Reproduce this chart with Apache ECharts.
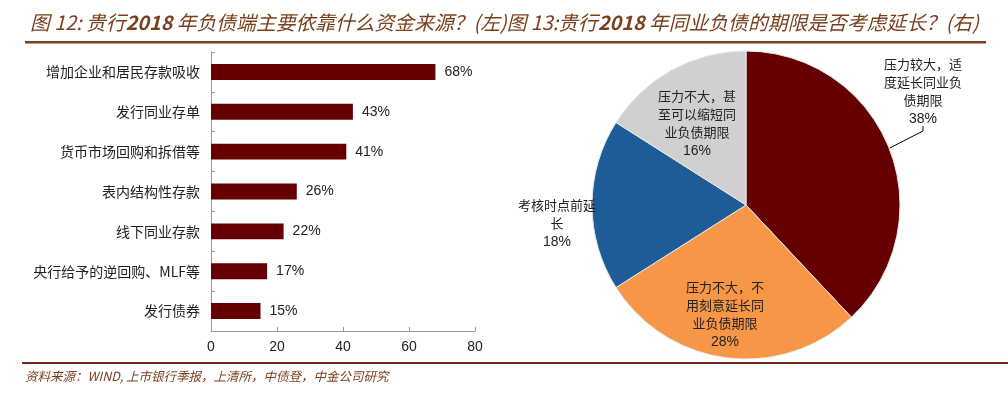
<!DOCTYPE html>
<html><head><meta charset="utf-8">
<script src="https://cdn.jsdelivr.net/npm/echarts@6/dist/echarts.min.js"></script>
<style>html,body{margin:0;padding:0;background:#fff;}#c{width:1008px;height:396px;}</style>
</head><body><div id="c"></div>
<script>
const barCategories = ['增加企业和居民存款吸收','发行同业存单','货币市场回购和拆借等','表内结构性存款','线下同业存款','央行给予的逆回购、MLF等','发行债券'];
const barValues = [68, 43, 41, 26, 22, 17, 15];
const xTicks = [0, 20, 40, 60, 80];
const pieNames = ['压力较大，适\n度延长同业负\n债期限', '压力不大，不\n用刻意延长同\n业负债期限', '考核时点前延\n长', '压力不大，甚\n至可以缩短同\n业负债期限'];
const pieValues = [38, 28, 18, 16];
const pieColors = ['#660000', '#F79646', '#1D5C97', '#D0D0D0'];
const titleText = '图 12: 贵行2018 年负债端主要依靠什么资金来源？(左)图 13:贵行2018 年同业负债的期限是否考虑延长？(右)';
const sourceText = '资料来源：WIND, 上市银行季报，上清所，中债登，中金公司研究';

const CJK = "'Noto Sans CJK SC', sans-serif";
const NUM = "'Liberation Sans', Arial, sans-serif";
const brown = '#7A3F1D';

// label centre positions for pie labels (px)
const pieLabelPos = [[923, 92], [725, 315], [557, 224], [697, 124]];

const titleRich = titleText.split('2018').map(s => '{a|' + s + '}').join('{b|2018}');

const chart = echarts.init(document.getElementById('c'), null, {renderer: 'canvas'});
chart.setOption({
  animation: false,
  backgroundColor: '#fff',
  grid: {left: 211, right: 533, top: 52, bottom: 65, containLabel: false},
  xAxis: {
    type: 'value', min: xTicks[0], max: xTicks[xTicks.length - 1], interval: 20,
    axisLine: {show: true, lineStyle: {color: '#999', width: 1}},
    axisTick: {show: true, inside: true, length: 4, lineStyle: {color: '#999'}},
    splitLine: {show: false},
    axisLabel: {color: '#222', fontSize: 14, fontFamily: NUM, margin: 9}
  },
  yAxis: {
    type: 'category', data: barCategories, inverse: true,
    axisLine: {show: true, lineStyle: {color: '#999', width: 1}},
    axisTick: {show: true, inside: true, length: 4, lineStyle: {color: '#999'}},
    axisLabel: {color: '#222', fontSize: 14, fontFamily: CJK, margin: 11}
  },
  series: [{
    type: 'bar', data: barValues, barCategoryGap: '60%',
    itemStyle: {color: '#660000'},
    label: {show: true, position: 'right', distance: 9, formatter: '{c}%', color: '#222', fontSize: 14, fontFamily: NUM}
  }, {
    type: 'pie', center: [746, 205], radius: 154, startAngle: 90, clockwise: true,
    data: pieValues.map((v, i) => ({value: v, name: pieNames[i], itemStyle: {color: pieColors[i]}})),
    itemStyle: {borderColor: '#e8e8e8', borderWidth: 1},
    label: {
      show: true, position: 'outside',
      formatter: p => '{t|' + p.name + '}\n{p|' + p.value + '%}',
      rich: {
        t: {fontFamily: CJK, fontSize: 13, color: '#222', lineHeight: 18, align: 'center'},
        p: {fontFamily: NUM, fontSize: 14, color: '#222', lineHeight: 19, align: 'center'}
      },
      align: 'center'
    },
    labelLine: {show: true, length: 10, length2: 5, lineStyle: {color: '#000', width: 1}},
    labelLayout: function (params) {
      const pos = pieLabelPos[params.dataIndex];
      return {x: pos[0], y: pos[1], align: 'center', verticalAlign: 'middle'};
    },
    emphasis: {disabled: true}
  }],
  graphic: [
    {type: 'text', left: 30, top: 13, style: {
      text: titleRich,
      rich: {
        a: {fill: brown, fontSize: 19.8, lineHeight: 26, fontStyle: 'italic', fontFamily: CJK},
        b: {fill: brown, fontSize: 19.8, lineHeight: 26, fontStyle: 'italic', fontWeight: 'bold', fontFamily: CJK}
      }
    }},
    {type: 'rect', shape: {x: 25, y: 41, width: 961, height: 2.5}, style: {fill: '#7A3F1D'}},
    {type: 'rect', shape: {x: 22, y: 362, width: 986, height: 2}, style: {fill: '#6B2A1A'}},
    {type: 'text', left: 25, top: 370, style: {
      text: sourceText, fill: brown, fontSize: 12.5, fontStyle: 'italic', fontFamily: CJK
    }}
  ]
});
</script></body></html>
